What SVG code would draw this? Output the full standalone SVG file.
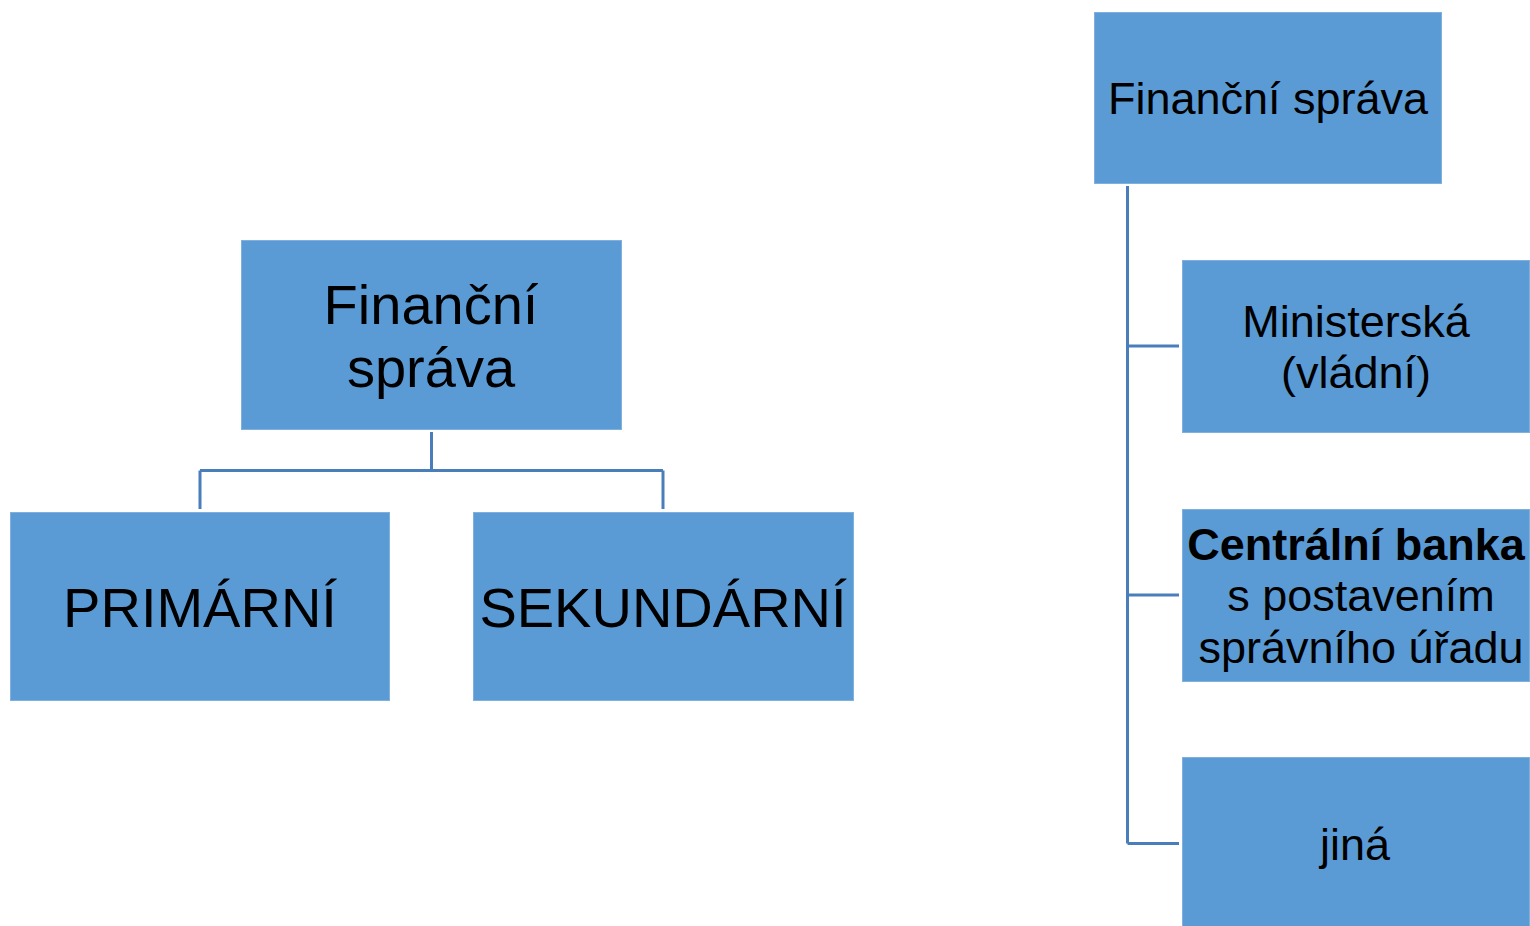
<svg xmlns="http://www.w3.org/2000/svg" width="1530" height="926" viewBox="0 0 1530 926">
<style>
.box{fill:#5B9BD5;stroke:#7FB0DE;stroke-width:1}
.t{font-family:"Liberation Sans",Arial,sans-serif;fill:#000;text-anchor:middle}
.l{font-size:56px}
.r{font-size:45px}
.b{font-weight:bold}
.c{fill:none;stroke:#4A7EBB;stroke-width:3}
</style>
<rect width="1530" height="926" fill="#fff"/>
<g id="connectors">
<path class="c" d="M431.5 432V470.5M200 470.5H663M200 470.5V509M663 470.5V509"/>
<path class="c" d="M1127.5 186V843.5M1127.5 346H1179M1127.5 595H1179M1127.5 843.5H1179"/>
</g>
<g id="left-root">
<rect class="box" x="241.5" y="240.5" width="380" height="189"/>
<text class="t l" x="431" y="324">Finanční</text>
<text class="t l" x="431" y="387">správa</text>
</g>
<g id="primarni">
<rect class="box" x="10.5" y="512.5" width="379" height="188"/>
<text class="t l" x="200" y="627">PRIMÁRNÍ</text>
</g>
<g id="sekundarni">
<rect class="box" x="473.5" y="512.5" width="380" height="188"/>
<text class="t l" x="663" y="627">SEKUNDÁRNÍ</text>
</g>
<g id="right-root">
<rect class="box" x="1094.5" y="12.5" width="347" height="171"/>
<text class="t r" x="1268" y="114">Finanční správa</text>
</g>
<g id="ministerska">
<rect class="box" x="1182.5" y="260.5" width="347" height="172"/>
<text class="t r" x="1356" y="337">Ministerská</text>
<text class="t r" x="1356" y="388">(vládní)</text>
</g>
<g id="centralni-banka">
<rect class="box" x="1182.5" y="509.5" width="347" height="172"/>
<text class="t r b" x="1356" y="560">Centrální banka</text>
<text class="t r" x="1361" y="611">s postavením</text>
<text class="t r" x="1361" y="663">správního úřadu</text>
</g>
<g id="jina">
<rect class="box" x="1182.5" y="757.5" width="347" height="172"/>
<text class="t r" x="1355" y="860">jiná</text>
</g>
</svg>
